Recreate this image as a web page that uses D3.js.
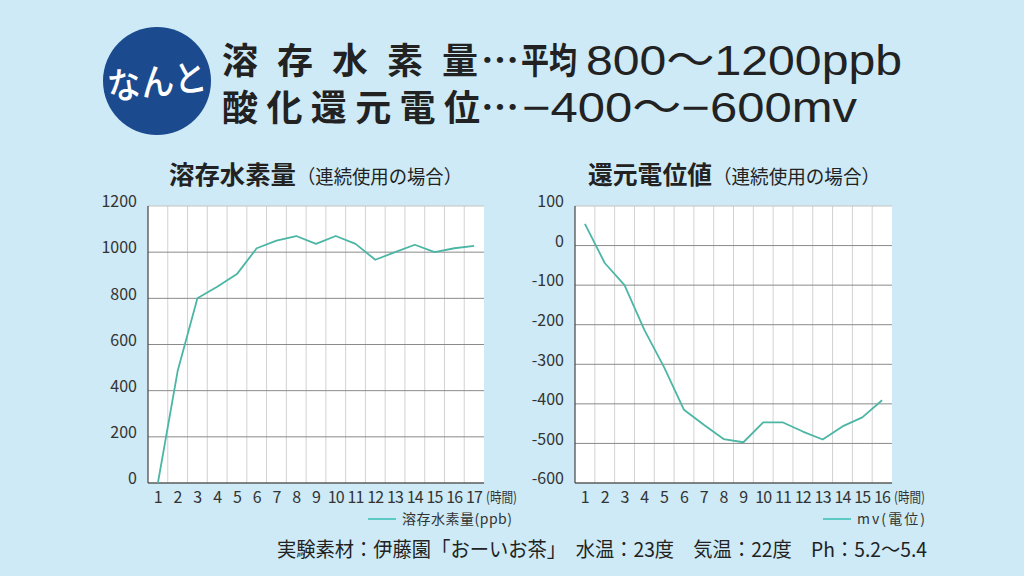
<!DOCTYPE html>
<html><head><meta charset="utf-8">
<script src="https://cdn.jsdelivr.net/npm/d3@7"></script>
<style>body{margin:0;background:#cdeaf6;} svg{display:block}</style>
</head><body><svg id="c" width="1024" height="576"></svg>
<script>
// ---- data ----
const h2Hours = [1,2,3,4,5,6,7,8,9,10,11,12,13,14,15,16,17];
const h2Values = [0,485,800,850,905,1017,1050,1070,1036,1070,1036,967,1000,1032,1000,1017,1027];
const h2Ticks = [0,200,400,600,800,1000,1200];
const orpHours = [1,2,3,4,5,6,7,8,9,10,11,12,13,14,15,16];
const orpValues = [55,-44,-100,-213,-308,-415,-453,-489,-497,-447,-447,-470,-490,-457,-434,-391];
const orpTicks = [100,0,-100,-200,-300,-400,-500,-600];
const h2Title = ["溶存水素量","（連続使用の場合）"];
const orpTitle = ["還元電位値","（連続使用の場合）"];
const h2Legend = "溶存水素量(ppb)";
const orpLegend = "mv(電位)";
const unitLabel = "(時間)";

const svg = d3.select("#c");
const CJK = "'Noto Sans CJK JP', sans-serif";
const LAT = "'Liberation Sans', 'Noto Sans CJK JP', sans-serif";
const BG = "#cdeaf6", LINE = "#4cb6a5", LEG = "#5ccac3", TXT = "#222";

svg.append("rect").attr("width",1024).attr("height",576).attr("fill",BG);

// ---- header ----
const badge = svg.append("g").attr("transform","translate(157,81)");
badge.append("circle").attr("r",54).attr("fill","#1c4a8e");
badge.append("text").attr("transform","rotate(-6)").attr("y",14).attr("text-anchor","middle")
  .attr("font-family",CJK).attr("font-size",37).attr("font-weight",500).attr("fill","#fff")
  .attr("textLength",100).attr("lengthAdjust","spacingAndGlyphs").text("なんと");

function piece(txt,x,y,len,fam,size,adj,weight){
  svg.append("text").attr("x",x).attr("y",y).attr("font-family",fam).attr("font-size",size)
    .attr("font-weight",weight||700).attr("fill",TXT)
    .attr("textLength",len).attr("lengthAdjust",adj||"spacingAndGlyphs").text(txt);
}
piece("溶存水素量",222,74,256,CJK,36,"spacing",600);
piece("…",481,74,38,CJK,36,"spacingAndGlyphs",600);
piece("平均",521,74,56,CJK,36,"spacingAndGlyphs",600);
piece("800～1200ppb",586,75,316,LAT,42,"spacingAndGlyphs",400);
piece("酸化還元電位",222,121,258,CJK,36,"spacing",600);
piece("…",481,121,38,CJK,36,"spacingAndGlyphs",600);
piece("−400～−600mv",522,122,335,LAT,42,"spacingAndGlyphs",400);

// ---- chart builder ----
function chart(o){
  const g = svg.append("g");
  const x = d3.scaleBand().domain(o.hours).range([o.left,o.right]).paddingInner(0).paddingOuter(0);
  const y = d3.scaleLinear().domain(o.domain).range([o.bottom,o.top]);
  const cx = d => x(d)+x.bandwidth()/2;
  g.append("rect").attr("x",o.left).attr("y",o.top).attr("width",o.right-o.left)
    .attr("height",o.bottom-o.top).attr("fill","#fff");
  g.selectAll(".vg").data(o.hours.slice(1)).join("line")
    .attr("x1",d=>x(d)).attr("x2",d=>x(d)).attr("y1",o.top).attr("y2",o.bottom)
    .attr("stroke","#d2d2d2").attr("stroke-width",1);
  g.selectAll(".hg").data(o.ticks).join("line")
    .attr("x1",o.left).attr("x2",o.right).attr("y1",d=>y(d)).attr("y2",d=>y(d))
    .attr("stroke",d=>d===o.domain[1]?"#c4c4c4":"#8a8a8a").attr("stroke-width",1);
  g.append("line").attr("x1",o.left).attr("x2",o.left).attr("y1",o.top).attr("y2",o.bottom)
    .attr("stroke","#444").attr("stroke-width",1.2);
  g.append("line").attr("x1",o.left).attr("x2",o.right).attr("y1",o.bottom).attr("y2",o.bottom)
    .attr("stroke","#444").attr("stroke-width",1.2);
  const ya = g.append("g").attr("transform",`translate(${o.left-11},0)`)
    .call(d3.axisLeft(y).tickValues(o.ticks).tickSize(0).tickPadding(0).tickFormat(d=>String(d)));
  ya.select(".domain").remove();
  ya.selectAll("text").attr("font-family",CJK).attr("font-size",16).attr("fill","#333").attr("dy","0.05em");
  const xa = g.append("g").attr("transform",`translate(0,${o.bottom+5})`)
    .call(d3.axisBottom(x).tickSize(0).tickPadding(0));
  xa.select(".domain").remove();
  xa.selectAll("text").attr("font-family",CJK).attr("font-size",16).attr("fill","#333").attr("dy","0.92em")
    .attr("letter-spacing",-0.8);
  g.append("text").attr("x",o.right+2).attr("y",o.bottom+19).attr("font-family",CJK)
    .attr("font-size",14).attr("fill","#333").attr("textLength",31).attr("lengthAdjust","spacingAndGlyphs")
    .text(unitLabel);
  g.append("path").datum(o.values.map((v,i)=>[o.hours[i],v]))
    .attr("d",d3.line().x(d=>cx(d[0])).y(d=>y(d[1])))
    .attr("fill","none").attr("stroke",LINE).attr("stroke-width",1.8).attr("stroke-linejoin","round");
  g.append("text").attr("x",o.titleX).attr("y",184).attr("font-family",CJK).attr("fill",TXT)
    .attr("font-size",25).attr("font-weight",700).attr("textLength",o.titleLen[0])
    .attr("lengthAdjust","spacingAndGlyphs").text(o.title[0]);
  g.append("text").attr("x",o.subX).attr("y",184).attr("font-family",CJK).attr("fill",TXT)
    .attr("font-size",19).attr("font-weight",400).attr("textLength",o.titleLen[1])
    .attr("lengthAdjust","spacingAndGlyphs").text(o.title[1]);
  g.append("line").attr("x1",o.legX).attr("x2",o.legX+28).attr("y1",519).attr("y2",519)
    .attr("stroke",LEG).attr("stroke-width",2);
  g.append("text").attr("x",o.legX+34).attr("y",524).attr("font-family",CJK).attr("font-size",14)
    .attr("fill","#333").attr("textLength",o.legLen).attr("lengthAdjust","spacing").text(o.legend);
}

chart({hours:h2Hours, values:h2Values, ticks:h2Ticks, domain:[0,1200],
  left:148, right:484, top:206, bottom:483, title:h2Title, titleX:169, subX:297, titleLen:[127,165],
  legX:368, legend:h2Legend, legLen:110});
chart({hours:orpHours, values:orpValues, ticks:orpTicks, domain:[-600,100],
  left:575, right:892, top:206, bottom:483, title:orpTitle, titleX:588, subX:713, titleLen:[124,167],
  legX:823, legend:orpLegend, legLen:68});

// ---- footnote ----
svg.append("text").attr("x",277).attr("y",557).attr("font-family",CJK).attr("font-size",20)
  .attr("fill",TXT).attr("textLength",650).attr("lengthAdjust","spacingAndGlyphs")
  .text("実験素材：伊藤園「おーいお茶」　水温：23度　気温：22度　Ph：5.2～5.4");
</script></body></html>
